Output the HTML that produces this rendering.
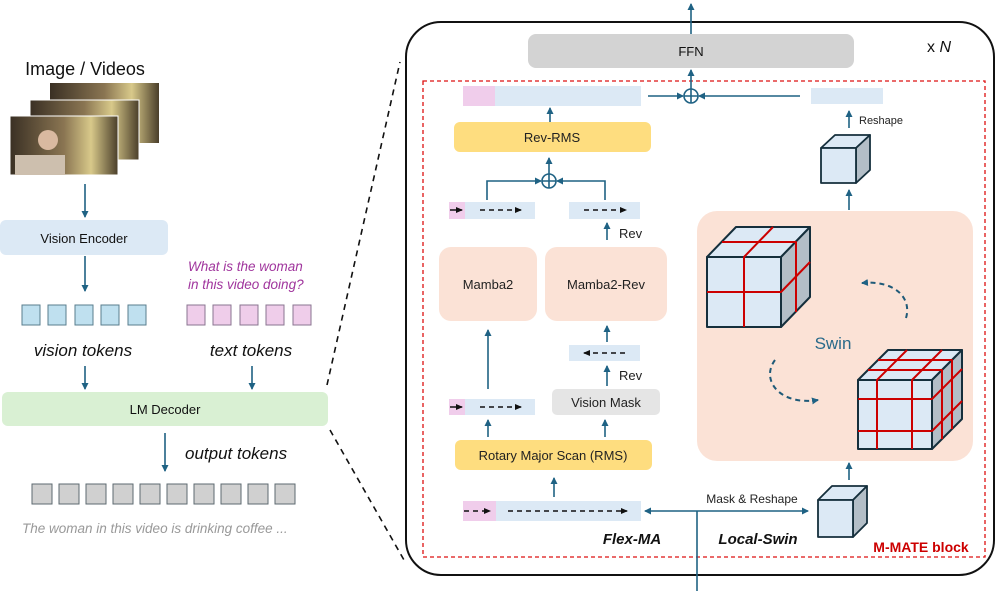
<!DOCTYPE html>
<html><head><meta charset="utf-8"><style>
html,body{margin:0;padding:0;background:#fff;}
svg{display:block;font-family:"Liberation Sans",sans-serif;}
</style></head><body>
<svg width="996" height="591" viewBox="0 0 996 591" xmlns="http://www.w3.org/2000/svg">
<defs>
<marker id="a" markerWidth="8" markerHeight="8" refX="6" refY="4" orient="auto" markerUnits="userSpaceOnUse"><path d="M0,0.5 L7,4 L0,7.5 Z" fill="#1f6284"/></marker>
<marker id="ab" markerWidth="8" markerHeight="8" refX="6" refY="4" orient="auto" markerUnits="userSpaceOnUse"><path d="M0,1 L7,4 L0,7 Z" fill="#111"/></marker>
<marker id="as" markerWidth="8" markerHeight="8" refX="6" refY="4" orient="auto-start-reverse" markerUnits="userSpaceOnUse"><path d="M0,0.5 L7,4 L0,7.5 Z" fill="#1f6284"/></marker>
<linearGradient id="ph" x1="0" x2="1" y1="0" y2="0"><stop offset="0" stop-color="#3a3024"/><stop offset="0.5" stop-color="#8a7552"/><stop offset="0.75" stop-color="#d8c98a"/><stop offset="1" stop-color="#4a3e2a"/></linearGradient>
</defs>
<!-- LEFT -->
<text x="85" y="75" font-size="18" text-anchor="middle" fill="#111">Image / Videos</text>
<rect x="50" y="83" width="109" height="60" fill="url(#ph)"/>
<rect x="30" y="100" width="109" height="60" fill="url(#ph)" stroke="#fff" stroke-width="1"/>
<rect x="10" y="116" width="108" height="59" fill="url(#ph)" stroke="#fff" stroke-width="1"/>
<circle cx="48" cy="140" r="10" fill="#d9b9a0"/><rect x="15" y="155" width="50" height="20" fill="#cdbfae"/>
<line x1="85" y1="184" x2="85" y2="217" stroke="#1f6284" stroke-width="1.6" marker-end="url(#a)"/>
<rect x="0" y="220" width="168" height="35" rx="6" fill="#dce9f5"/>
<text x="84" y="243" font-size="13" text-anchor="middle" fill="#111">Vision Encoder</text>
<line x1="85" y1="256" x2="85" y2="291" stroke="#1f6284" stroke-width="1.6" marker-end="url(#a)"/>
<text x="188" y="271" font-size="13.5" font-style="italic" fill="#a0359d">What is the woman</text>
<text x="188" y="289" font-size="13.5" font-style="italic" fill="#a0359d">in this video doing?</text>
<g stroke="#5a7e8e" stroke-width="1" fill="#bfe0ef">
<rect x="22" y="305" width="18" height="20"/><rect x="48" y="305" width="18" height="20"/><rect x="75" y="305" width="18" height="20"/><rect x="101" y="305" width="18" height="20"/><rect x="128" y="305" width="18" height="20"/>
</g>
<g stroke="#8a7590" stroke-width="1" fill="#efcdea">
<rect x="187" y="305" width="18" height="20"/><rect x="213" y="305" width="18" height="20"/><rect x="240" y="305" width="18" height="20"/><rect x="266" y="305" width="18" height="20"/><rect x="293" y="305" width="18" height="20"/>
</g>
<text x="83" y="356" font-size="17" font-style="italic" text-anchor="middle" fill="#111">vision tokens</text>
<text x="251" y="356" font-size="17" font-style="italic" text-anchor="middle" fill="#111">text tokens</text>
<line x1="85" y1="366" x2="85" y2="389" stroke="#1f6284" stroke-width="1.6" marker-end="url(#a)"/>
<line x1="252" y1="366" x2="252" y2="389" stroke="#1f6284" stroke-width="1.6" marker-end="url(#a)"/>
<rect x="2" y="392" width="326" height="34" rx="6" fill="#d9f0d3"/>
<text x="165" y="414" font-size="13" text-anchor="middle" fill="#111">LM Decoder</text>
<line x1="165" y1="433" x2="165" y2="471" stroke="#1f6284" stroke-width="1.6" marker-end="url(#a)"/>
<text x="185" y="459" font-size="17" font-style="italic" fill="#111">output tokens</text>
<g stroke="#5e6a70" stroke-width="1" fill="#d0d0d0">
<rect x="32" y="484" width="20" height="20"/><rect x="59" y="484" width="20" height="20"/><rect x="86" y="484" width="20" height="20"/><rect x="113" y="484" width="20" height="20"/><rect x="140" y="484" width="20" height="20"/><rect x="167" y="484" width="20" height="20"/><rect x="194" y="484" width="20" height="20"/><rect x="221" y="484" width="20" height="20"/><rect x="248" y="484" width="20" height="20"/><rect x="275" y="484" width="20" height="20"/>
</g>
<text x="22" y="533" font-size="13.5" font-style="italic" fill="#999">The woman in this video is drinking coffee ...</text>
<line x1="327" y1="385" x2="400" y2="62" stroke="#111" stroke-width="1.6" stroke-dasharray="6,5"/>
<line x1="330" y1="430" x2="404" y2="560" stroke="#111" stroke-width="1.6" stroke-dasharray="6,5"/>
<!-- RIGHT -->
<rect x="406" y="22" width="588" height="553" rx="35" fill="none" stroke="#111" stroke-width="2"/>
<line x1="691" y1="34" x2="691" y2="4" stroke="#1f6284" stroke-width="1.6" marker-end="url(#a)"/>
<rect x="528" y="34" width="326" height="34" rx="8" fill="#d3d3d3"/>
<text x="691" y="56" font-size="13" text-anchor="middle" fill="#111">FFN</text>
<text x="927" y="52" font-size="16" fill="#111">x <tspan font-style="italic">N</tspan></text>
<rect x="423" y="81" width="562" height="476" fill="none" stroke="#d11" stroke-width="1.3" stroke-dasharray="4,3"/>
<rect x="463" y="86" width="32" height="20" fill="#f0cdeb"/><rect x="495" y="86" width="146" height="20" fill="#dce9f5"/>
<line x1="648" y1="96" x2="683" y2="96" stroke="#1f6284" stroke-width="1.6" marker-end="url(#a)"/>
<line x1="800" y1="96" x2="699" y2="96" stroke="#1f6284" stroke-width="1.6" marker-end="url(#a)"/>
<line x1="691" y1="89" x2="691" y2="70" stroke="#1f6284" stroke-width="1.6" marker-end="url(#a)"/>
<circle cx="691" cy="96" r="7" fill="none" stroke="#1f6284" stroke-width="1.6"/><path d="M684,96H698M691,89V103" stroke="#1f6284" stroke-width="1.6"/>
<rect x="811" y="88" width="72" height="16" fill="#dce9f5"/>
<line x1="550" y1="122" x2="550" y2="108" stroke="#1f6284" stroke-width="1.6" marker-end="url(#a)"/>
<rect x="454" y="122" width="197" height="30" rx="6" fill="#fedd7f"/>
<text x="552" y="142" font-size="13" text-anchor="middle" fill="#222">Rev-RMS</text>
<line x1="549" y1="174" x2="549" y2="158" stroke="#1f6284" stroke-width="1.6" marker-end="url(#a)"/>
<circle cx="549" cy="181" r="7" fill="none" stroke="#1f6284" stroke-width="1.6"/><path d="M542,181H556M549,174V188" stroke="#1f6284" stroke-width="1.6"/>
<path d="M487,200V181H541" fill="none" stroke="#1f6284" stroke-width="1.6" marker-end="url(#a)"/>
<path d="M605,200V181H557" fill="none" stroke="#1f6284" stroke-width="1.6" marker-end="url(#a)"/>
<rect x="449" y="202" width="16" height="17" fill="#f0cdeb"/><rect x="465" y="202" width="70" height="17" fill="#dce9f5"/>
<line x1="450" y1="210" x2="462" y2="210" stroke="#111" stroke-width="1.5" marker-end="url(#ab)"/>
<line x1="480" y1="210" x2="521" y2="210" stroke="#111" stroke-width="1.5" stroke-dasharray="5,4" marker-end="url(#ab)"/>
<rect x="569" y="202" width="71" height="17" fill="#dce9f5"/>
<line x1="584" y1="210" x2="626" y2="210" stroke="#111" stroke-width="1.5" stroke-dasharray="5,4" marker-end="url(#ab)"/>
<line x1="607" y1="240" x2="607" y2="223" stroke="#1f6284" stroke-width="1.6" marker-end="url(#a)"/>
<text x="619" y="238" font-size="13" fill="#222">Rev</text>
<rect x="439" y="247" width="98" height="74" rx="12" fill="#fbe2d6"/>
<text x="488" y="289" font-size="13" text-anchor="middle" fill="#222">Mamba2</text>
<rect x="545" y="247" width="122" height="74" rx="12" fill="#fbe2d6"/>
<text x="606" y="289" font-size="13" text-anchor="middle" fill="#222">Mamba2-Rev</text>
<line x1="488" y1="389" x2="488" y2="330" stroke="#1f6284" stroke-width="1.6" marker-end="url(#a)"/>
<line x1="607" y1="342" x2="607" y2="326" stroke="#1f6284" stroke-width="1.6" marker-end="url(#a)"/>
<rect x="569" y="345" width="71" height="16" fill="#dce9f5"/>
<line x1="625" y1="353" x2="584" y2="353" stroke="#111" stroke-width="1.5" stroke-dasharray="5,4" marker-end="url(#ab)"/>
<line x1="607" y1="386" x2="607" y2="366" stroke="#1f6284" stroke-width="1.6" marker-end="url(#a)"/>
<text x="619" y="380" font-size="13" fill="#222">Rev</text>
<rect x="449" y="399" width="16" height="16" fill="#f0cdeb"/><rect x="465" y="399" width="70" height="16" fill="#dce9f5"/>
<line x1="450" y1="407" x2="462" y2="407" stroke="#111" stroke-width="1.5" marker-end="url(#ab)"/>
<line x1="480" y1="407" x2="521" y2="407" stroke="#111" stroke-width="1.5" stroke-dasharray="5,4" marker-end="url(#ab)"/>
<rect x="552" y="389" width="108" height="26" rx="5" fill="#e5e5e5"/>
<text x="606" y="407" font-size="13" text-anchor="middle" fill="#222">Vision Mask</text>
<line x1="488" y1="437" x2="488" y2="420" stroke="#1f6284" stroke-width="1.6" marker-end="url(#a)"/>
<line x1="605" y1="437" x2="605" y2="420" stroke="#1f6284" stroke-width="1.6" marker-end="url(#a)"/>
<rect x="455" y="440" width="197" height="30" rx="6" fill="#fedd7f"/>
<text x="553" y="460" font-size="13" text-anchor="middle" fill="#222">Rotary Major Scan (RMS)</text>
<line x1="554" y1="497" x2="554" y2="478" stroke="#1f6284" stroke-width="1.6" marker-end="url(#a)"/>
<rect x="463" y="501" width="33" height="20" fill="#f0cdeb"/><rect x="496" y="501" width="145" height="20" fill="#dce9f5"/>
<line x1="464" y1="511" x2="490" y2="511" stroke="#111" stroke-width="1.5" stroke-dasharray="5,4" marker-end="url(#ab)"/>
<line x1="508" y1="511" x2="627" y2="511" stroke="#111" stroke-width="1.5" stroke-dasharray="5,4" marker-end="url(#ab)"/>
<line x1="645" y1="511" x2="808" y2="511" stroke="#1f6284" stroke-width="1.6" marker-start="url(#as)" marker-end="url(#as)"/>
<line x1="697" y1="511" x2="697" y2="591" stroke="#1f6284" stroke-width="1.6"/>
<text x="752" y="503" font-size="12" text-anchor="middle" fill="#222">Mask &amp; Reshape</text>
<text x="632" y="544" font-size="15" font-weight="bold" font-style="italic" text-anchor="middle" fill="#111">Flex-MA</text>
<text x="758" y="544" font-size="15" font-weight="bold" font-style="italic" text-anchor="middle" fill="#111">Local-Swin</text>
<text x="921" y="552" font-size="14" font-weight="bold" text-anchor="middle" fill="#c00">M-MATE block</text>
<g stroke="#152f3c" stroke-width="1.8" stroke-linejoin="round">
<path d="M818,500L832,486H867L853,500Z" fill="#dce9f5"/>
<path d="M853,500L867,486V523L853,537Z" fill="#b3bec7"/>
<rect x="818" y="500" width="35" height="37" fill="#dce9f5"/>
</g>
<line x1="849" y1="480" x2="849" y2="463" stroke="#1f6284" stroke-width="1.6" marker-end="url(#a)"/>
<rect x="697" y="211" width="276" height="250" rx="20" fill="#fbe2d6"/>
<line x1="849" y1="210" x2="849" y2="190" stroke="#1f6284" stroke-width="1.6" marker-end="url(#a)"/>
<g stroke="#152f3c" stroke-width="1.8" stroke-linejoin="round">
<path d="M821,148L835,135H870L856,148Z" fill="#dce9f5"/>
<path d="M856,148L870,135V170L856,183Z" fill="#b3bec7"/>
<rect x="821" y="148" width="35" height="35" fill="#dce9f5"/>
</g>
<line x1="849" y1="128" x2="849" y2="111" stroke="#1f6284" stroke-width="1.6" marker-end="url(#a)"/>
<text x="859" y="124" font-size="11" fill="#222">Reshape</text>
<g stroke-linejoin="round">
<path d="M707,257L736,227H810L781,257Z" fill="#dce9f5" stroke="#152f3c" stroke-width="2"/>
<path d="M781,257L810,227V297L781,327Z" fill="#b3bec7" stroke="#152f3c" stroke-width="2"/>
<rect x="707" y="257" width="74" height="70" fill="#dce9f5" stroke="#152f3c" stroke-width="2"/>
<g stroke="#c00" stroke-width="2" fill="none">
<path d="M744,327V257L773,227"/><path d="M707,292H781L810,262"/><path d="M722,242H796V312"/>
</g>
</g>
<g stroke-linejoin="round">
<path d="M858,380L888,350H962L932,380Z" fill="#dce9f5" stroke="#152f3c" stroke-width="2"/>
<path d="M932,380L962,350V419L932,449Z" fill="#b3bec7" stroke="#152f3c" stroke-width="2"/>
<rect x="858" y="380" width="74" height="69" fill="#dce9f5" stroke="#152f3c" stroke-width="2"/>
<g stroke="#c00" stroke-width="2" fill="none">
<path d="M877,449V380L907,350"/><path d="M912,449V380L942,350"/>
<path d="M858,399H932L962,369"/><path d="M858,431H932L962,401"/>
<path d="M868,370H942V439"/><path d="M878,360H952V429"/>
</g>
</g>
<text x="833" y="349" font-size="17" text-anchor="middle" fill="#2a6a8a">Swin</text>
<path d="M906,318 A26,26 0 0 0 861,283" fill="none" stroke="#1f5a78" stroke-width="2" stroke-dasharray="5,4" transform="rotate(0)" visibility="hidden"/>
<path d="M906,318 A28,28 0 1 0 862,283" fill="none" stroke="#1f5a78" stroke-width="2" stroke-dasharray="5,4" visibility="hidden"/>
<path d="M906,318 C912,298 895,280 862,283" fill="none" stroke="#1f5a78" stroke-width="2" stroke-dasharray="5,4" marker-end="url(#a)"/>
<path d="M775,360 C760,380 780,406 818,400" fill="none" stroke="#1f5a78" stroke-width="2" stroke-dasharray="5,4" marker-end="url(#a)"/>
</svg>
</body></html>
